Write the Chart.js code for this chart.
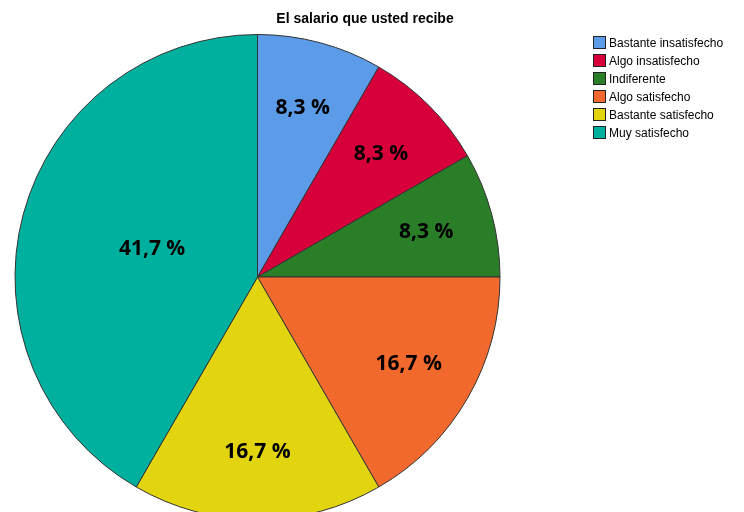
<!DOCTYPE html>
<html>
<head>
<meta charset="utf-8">
<script src="https://cdn.jsdelivr.net/npm/chart.js@4.4.0/dist/chart.umd.min.js"></script>
<style>
  html, body { margin: 0; padding: 0; background: #fff; overflow: hidden; }
  #wrap { position: relative; width: 744px; height: 512px; overflow: hidden; }
  #chartBox { position: absolute; left: 0; top: 0; width: 744px; height: 560px; }
  #titulo { position: absolute; left: 0; top: 10px; width: 730px; text-align: center;
    font: bold 14px "Liberation Sans", Arial, sans-serif; color: #000; }
  #leyenda { position: absolute; left: 593px; top: 36px; font: 12px "Liberation Sans", Arial, sans-serif; color: #000; }
  .item { height: 18px; line-height: 14px; white-space: nowrap; }
  .caja { display: inline-block; width: 11px; height: 11px; border: 1px solid #222; vertical-align: -2px; margin-right: 3px; }
</style>
</head>
<body>
<div id="wrap">
  <div id="chartBox"><canvas id="pieChart"></canvas></div>
  <div id="titulo">El salario que usted recibe</div>
  <div id="leyenda"></div>
</div>
<script>
// --- DATOS ---
const categorias = ['Bastante insatisfecho', 'Algo insatisfecho', 'Indiferente', 'Algo satisfecho', 'Bastante satisfecho', 'Muy satisfecho'];
// frecuencias sobre 12 casos (8,3 % = 1/12)
const frecuencias = [1, 1, 1, 2, 2, 5];
const colores = ['#5b9be8', '#d7003a', '#2a7e28', '#f2692d', '#e2d40f', '#00b09f'];

const total = frecuencias.reduce((a, b) => a + b, 0);

// Etiquetas de porcentaje dentro de cada sector
const etiquetasPlugin = {
    id: 'etiquetas',
    afterDatasetsDraw(chart) {
        const ctx = chart.ctx;
        const meta = chart.getDatasetMeta(0);
        ctx.save();
        ctx.font = 'bold 21px "Open Sans", "Noto Sans", sans-serif';
        ctx.fillStyle = '#000';
        ctx.textAlign = 'center';
        ctx.textBaseline = 'middle';
        meta.data.forEach((arc, i) => {
            const { x, y, startAngle, endAngle, outerRadius } = arc.getProps(['x', 'y', 'startAngle', 'endAngle', 'outerRadius'], true);
            const medio = (startAngle + endAngle) / 2;
            const ancho = endAngle - startAngle;
            // sectores chicos: etiqueta mas afuera
            const dist = outerRadius * (ancho > Math.PI / 2 ? 0.45 : 0.72);
            const pct = frecuencias[i] / total * 100;
            const texto = pct.toFixed(1).replace('.', ',') + ' %';
            ctx.fillText(texto, x + Math.cos(medio) * dist, y + Math.sin(medio) * dist);
        });
        ctx.restore();
    }
};

new Chart(document.getElementById('pieChart'), {
    type: 'pie',
    data: {
        labels: categorias,
        datasets: [{
            data: frecuencias,
            backgroundColor: colores,
            borderColor: '#333',
            borderWidth: 1
        }]
    },
    options: {
        responsive: true,
        maintainAspectRatio: false,
        animation: false,
        layout: { padding: { left: 14, top: 34, right: 243, bottom: 40 } },
        plugins: {
            legend: { display: false },
            title: { display: false },
            tooltip: { enabled: false }
        }
    },
    plugins: [etiquetasPlugin]
});

// Leyenda
const leyenda = document.getElementById('leyenda');
categorias.forEach((c, i) => {
    const div = document.createElement('div');
    div.className = 'item';
    div.innerHTML = '<span class="caja" style="background:' + colores[i] + '"></span>' + c;
    leyenda.appendChild(div);
});
</script>
</body>
</html>
